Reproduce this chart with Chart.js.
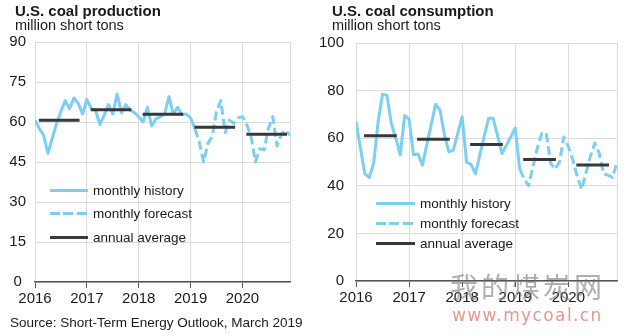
<!DOCTYPE html>
<html>
<head>
<meta charset="utf-8">
<script src="https://cdn.jsdelivr.net/npm/chart.js@4.4.1/dist/chart.umd.min.js"></script>
<style>
  body { margin: 0; background: #fff; }
  #wrap { position: relative; width: 625px; height: 336px; overflow: hidden; font-family: 'Liberation Sans', Arial, sans-serif; color: #1a1a1a; }
  canvas { position: absolute; top: 0; }
  .t { position: absolute; white-space: nowrap; line-height: 1; }
  .title { font-weight: bold; font-size: 15px; }
  .sub { font-size: 14.5px; }
  .leg { font-size: 13.5px; }
  .src { font-size: 13.5px; }
  .line { position: absolute; height: 3px; }
  .solid { background: #7DCEF3; }
  .dash { background: repeating-linear-gradient(to right, #7DCEF3 0 10px, transparent 10px 13.5px); }
  .avg { background: #383838; }
  .wm1 { font-family: 'Noto Sans CJK SC', sans-serif; font-size: 28px; color: rgba(110, 110, 110, 0.55); letter-spacing: 3px; }
  .wm2 { font-family: 'DejaVu Sans', sans-serif; font-size: 17px; color: rgba(210, 80, 80, 0.6); letter-spacing: 1.4px; }
</style>
</head>
<body>
<div id="wrap">
  <canvas id="prodChart" width="312" height="336" style="left:0"></canvas>
  <canvas id="consChart" width="313" height="336" style="left:312px"></canvas>

  <div class="t title" style="left:15px; top:3px">U.S. coal production</div>
  <div class="t sub" style="left:15px; top:18px">million short tons</div>
  <div class="t title" style="left:332px; top:3px">U.S. coal consumption</div>
  <div class="t sub" style="left:332px; top:18px">million short tons</div>

  <!-- legend, production -->
  <div class="line solid" style="left:50px; top:188.5px; width:38px"></div>
  <div class="t leg" style="left:93px; top:183.6px">monthly history</div>
  <div class="line dash" style="left:50px; top:211.5px; width:38px"></div>
  <div class="t leg" style="left:93px; top:206.6px">monthly forecast</div>
  <div class="line avg" style="left:50px; top:235.5px; width:38px"></div>
  <div class="t leg" style="left:93px; top:230.6px">annual average</div>

  <!-- legend, consumption -->
  <div class="line solid" style="left:376px; top:201.5px; width:39px"></div>
  <div class="t leg" style="left:420px; top:196.6px">monthly history</div>
  <div class="line dash" style="left:376px; top:221.5px; width:39px"></div>
  <div class="t leg" style="left:420px; top:216.6px">monthly forecast</div>
  <div class="line avg" style="left:376px; top:241.5px; width:39px"></div>
  <div class="t leg" style="left:420px; top:236.6px">annual average</div>

  <div class="t src" style="left:10px; top:316px">Source: Short-Term Energy Outlook, March 2019</div>

  <div class="t wm1" style="left:450px; top:272px">我的煤炭网</div>
  <div class="t wm2" style="left:452px; top:307px">www.mycoal.cn</div>
</div>

<script>
const years = ['2016', '2017', '2018', '2019', '2020'];
const yearTicks = [0, 12, 24, 36, 48, 59];
const lastHistory = 37; // Feb 2019 is the last month of history

// monthly values, Jan 2016 .. Dec 2020
const prodMonthly = [
  60.7, 57.5, 55, 48.2, 54, 59.5, 64, 68, 65, 69, 67, 63,
  68.5, 65, 64.5, 59, 62.5, 66.5, 63, 70.5, 63.5, 66.5, 64.5, 63.5,
  62, 60, 65.5, 58.5, 61.2, 62, 63, 69.5, 63, 65.5, 62.8, 63,
  61.5, 57.5, 52.5, 45, 52, 54.5, 64, 68, 56, 60.7, 59.5, 61.5,
  62, 59, 54.5, 45, 50, 49.5, 57.5, 62, 51, 55.5, 57, 55
];
const prodAnnual = [60.7, 64.6, 62.9, 58.0, 55.4];
const prodTicks = [0, 15, 30, 45, 60, 75, 90];

const consMonthly = [
  67, 56, 45, 43.5, 49.5, 67, 78.5, 78, 66, 60, 53, 69.5,
  68, 53, 53.4, 48.7, 57.2, 65.7, 74.2, 71.8, 61.3, 54.3, 55, 62,
  69, 49.9, 49, 45, 53, 61, 68.4, 68.4, 61, 53.6, 57, 60.6,
  64.2, 47, 43, 40, 48, 56, 62, 62.3, 49.5, 47, 50, 60.5,
  56.5, 51, 44, 38.5, 45.5, 52.5, 58, 53.5, 45, 44.5, 43.5, 50
];
const consAnnual = [61.0, 59.6, 57.4, 51.1, 48.7];
const consTicks = [0, 20, 40, 60, 80, 100];

const lightBlue = '#7DCEF3';
const darkGrey = '#383838';
const gridGrey = '#dcdcdc';
const textColor = '#1a1a1a';

function points(values, from, to) {
  const pts = [];
  for (let i = from; i <= to; i++) {
    pts.push({ x: i, y: values[i] });
  }
  return pts;
}

// one short flat segment per year, broken by a null point
function annualSegments(avgs, start, end) {
  const pts = [];
  avgs.forEach((v, k) => {
    pts.push({ x: k * 12 + start, y: v });
    pts.push({ x: k * 12 + end, y: v });
    pts.push({ x: k * 12 + end, y: null });
  });
  return pts;
}

function makeChart(id, monthly, annual, yTicks, o) {
  new Chart(document.getElementById(id), {
    type: 'line',
    data: {
      datasets: [
        {
          label: 'annual average',
          data: annualSegments(annual, o.barStart, o.barEnd),
          borderColor: darkGrey,
          borderWidth: 3,
          order: 0
        },
        {
          label: 'monthly history',
          data: points(monthly, 0, lastHistory),
          borderColor: lightBlue,
          borderWidth: 3,
          order: 1
        },
        {
          label: 'monthly forecast',
          data: points(monthly, lastHistory, monthly.length - 1),
          borderColor: lightBlue,
          borderWidth: 3,
          borderDash: [9, 4],
          order: 1
        }
      ]
    },
    options: {
      responsive: false,
      animation: false,
      spanGaps: false,
      elements: {
        point: { radius: 0 },
        line: { tension: 0, borderCapStyle: 'butt', borderJoinStyle: 'round' }
      },
      layout: { padding: o.padding },
      plugins: {
        legend: { display: false },
        tooltip: { enabled: false }
      },
      scales: {
        x: {
          type: 'linear',
          min: 0,
          max: 59,
          afterBuildTicks: s => { s.ticks = yearTicks.map(v => ({ value: v })); },
          afterFit: s => { s.height = 30; },
          ticks: {
            autoSkip: false,
            maxRotation: 0,
            padding: 2,
            color: textColor,
            font: { size: 15, family: 'Liberation Sans' },
            callback: v => (v % 12 === 0 ? years[v / 12] : '')
          },
          grid: {
            color: gridGrey,
            tickLength: 6,
            tickColor: c => (c.tick && c.tick.value === 59 ? 'rgba(0,0,0,0)' : '#555')
          },
          border: { color: '#555', width: 1.5 }
        },
        y: {
          min: 0,
          max: yTicks[yTicks.length - 1],
          afterBuildTicks: s => { s.ticks = yTicks.map(v => ({ value: v })); },
          afterFit: s => { s.width = o.axisWidth; },
          ticks: {
            padding: o.labelPad,
            crossAlign: o.crossAlign,
            color: textColor,
            font: { size: 15, family: 'Liberation Sans' }
          },
          grid: { color: gridGrey, drawTicks: false },
          border: { display: false }
        }
      }
    }
  });
}

makeChart('prodChart', prodMonthly, prodAnnual, prodTicks, {
  padding: { top: 42, right: 22, bottom: 24, left: 0 },
  axisWidth: 35,
  labelPad: 9,
  crossAlign: 'center',
  barStart: 0.9,
  barEnd: 10.3
});

makeChart('consChart', consMonthly, consAnnual, consTicks, {
  padding: { top: 43, right: 8, bottom: 25, left: 0 },
  axisWidth: 44,
  labelPad: 12,
  crossAlign: 'near',
  barStart: 1.8,
  barEnd: 9.2
});
</script>
</body>
</html>
